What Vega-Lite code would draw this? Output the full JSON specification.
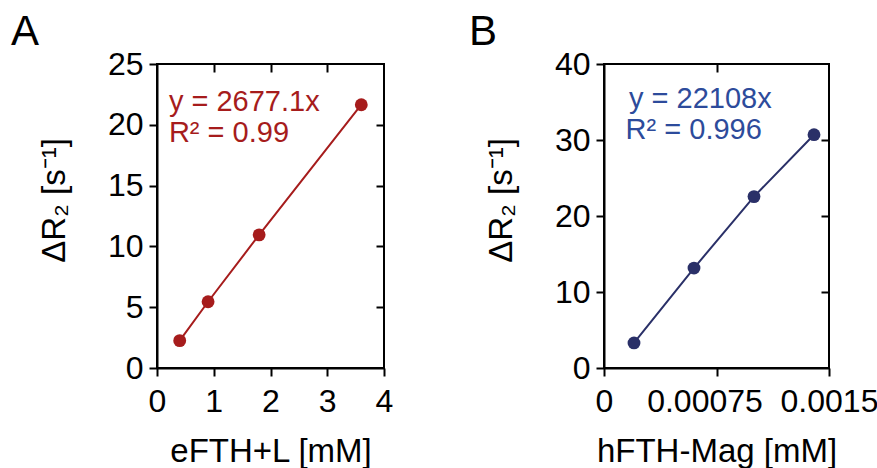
{
  "$schema": "https://vega.github.io/schema/vega-lite/v6.json",
  "padding": {"left": 10, "top": 10, "right": 0, "bottom": 0},
  "background": "white",
  "spacing": 74,
  "config": {
    "font": "Liberation Sans",
    "view": {"stroke": "black", "strokeWidth": 2},
    "axis": {
      "grid": false,
      "domainColor": "black", "domainWidth": 2,
      "tickColor": "black", "tickWidth": 2, "tickSize": 8,
      "labelFont": "Liberation Sans", "labelFontSize": 32, "labelColor": "black", "labelOverlap": false, "labelFlush": false,
      "titleFont": "Liberation Sans", "titleFontSize": 33, "titleFontWeight": "normal", "titleColor": "black"
    },
    "title": {"font": "Liberation Sans", "fontSize": 42, "fontWeight": "normal", "color": "black", "anchor": "start", "frame": "group", "baseline": "alphabetic"}
  },
  "hconcat": [
    {
      "width": 227, "height": 304,
      "title": {"text": "A", "dx": -146, "offset": -6},
      "data": {"values": [
        {"conc": 0.4, "dR2": 2.25},
        {"conc": 0.9, "dR2": 5.45},
        {"conc": 1.8, "dR2": 10.95},
        {"conc": 3.6, "dR2": 21.65}
      ]},
      "layer": [
        {
          "mark": {"type": "line", "color": "#a61c1c", "strokeWidth": 2},
          "encoding": {
            "x": {"field": "conc", "type": "quantitative", "scale": {"domain": [0, 4], "nice": false},
                  "axis": {"values": [0, 1, 2, 3, 4], "title": "eFTH+L [mM]", "labelPadding": 10, "titlePadding": 18}},
            "y": {"field": "dR2", "type": "quantitative", "scale": {"domain": [0, 25], "nice": false},
                  "axis": {"values": [0, 5, 10, 15, 20, 25], "title": "ΔR₂ [s⁻¹]", "titleFontSize": 33, "labelPadding": 6, "titlePadding": 36, "titleY": 136}}
          }
        },
        {
          "mark": {"type": "point", "filled": true, "size": 165, "color": "#a61c1c", "opacity": 1},
          "encoding": {
            "x": {"field": "conc", "type": "quantitative",
                  "axis": {"orient": "top", "values": [1, 2, 3], "labels": false, "title": null, "domain": false, "tickSize": -8}},
            "y": {"field": "dR2", "type": "quantitative",
                  "axis": {"orient": "right", "values": [5, 10, 15, 20], "labels": false, "title": null, "domain": false, "tickSize": -8}}
          }
        },
        {
          "data": {"values": [{}]},
          "mark": {"type": "text", "align": "left", "baseline": "alphabetic", "fontSize": 29, "color": "#a61c1c"},
          "encoding": {
            "x": {"datum": 0.21, "type": "quantitative", "axis": null},
            "y": {"datum": 21.16, "type": "quantitative", "axis": null},
            "text": {"value": "y = 2677.1x"}
          }
        },
        {
          "data": {"values": [{}]},
          "mark": {"type": "text", "align": "left", "baseline": "alphabetic", "fontSize": 29, "color": "#a61c1c"},
          "encoding": {
            "x": {"datum": 0.21, "type": "quantitative", "axis": null},
            "y": {"datum": 18.61, "type": "quantitative", "axis": null},
            "text": {"value": "R² = 0.99"}
          }
        }
      ],
      "resolve": {"axis": {"x": "independent", "y": "independent"}}
    },
    {
      "width": 225, "height": 304,
      "title": {"text": "B", "dx": -135, "offset": -6},
      "data": {"values": [
        {"conc": 0.0002, "dR2": 3.3},
        {"conc": 0.0006, "dR2": 13.15},
        {"conc": 0.001, "dR2": 22.55},
        {"conc": 0.0014, "dR2": 30.7}
      ]},
      "layer": [
        {
          "mark": {"type": "line", "color": "#2a3068", "strokeWidth": 2},
          "encoding": {
            "x": {"field": "conc", "type": "quantitative", "scale": {"domain": [0, 0.0015], "nice": false},
                  "axis": {"values": [0, 0.00075, 0.0015], "format": ".5~f", "title": "hFTH-Mag [mM]", "labelPadding": 10, "titlePadding": 18,
                           "labelOffset": {"condition": {"test": "datum.value > 0.0005 && datum.value < 0.001", "value": -12}, "value": 0}}},
            "y": {"field": "dR2", "type": "quantitative", "scale": {"domain": [0, 40], "nice": false},
                  "axis": {"values": [0, 10, 20, 30, 40], "title": "ΔR₂ [s⁻¹]", "titleFontSize": 33, "labelPadding": 6, "titlePadding": 36, "titleY": 136}}
          }
        },
        {
          "mark": {"type": "point", "filled": true, "size": 165, "color": "#2a3068", "opacity": 1},
          "encoding": {
            "x": {"field": "conc", "type": "quantitative",
                  "axis": {"orient": "top", "values": [0.00075], "labels": false, "title": null, "domain": false, "tickSize": -8}},
            "y": {"field": "dR2", "type": "quantitative",
                  "axis": {"orient": "right", "values": [10, 20, 30], "labels": false, "title": null, "domain": false, "tickSize": -8}}
          }
        },
        {
          "data": {"values": [{}]},
          "mark": {"type": "text", "align": "left", "baseline": "alphabetic", "fontSize": 29, "color": "#2d4b9b"},
          "encoding": {
            "x": {"datum": 0.000167, "type": "quantitative", "axis": null},
            "y": {"datum": 34.16, "type": "quantitative", "axis": null},
            "text": {"value": "y = 22108x"}
          }
        },
        {
          "data": {"values": [{}]},
          "mark": {"type": "text", "align": "left", "baseline": "alphabetic", "fontSize": 29, "color": "#2d4b9b"},
          "encoding": {
            "x": {"datum": 0.000144, "type": "quantitative", "axis": null},
            "y": {"datum": 30.1, "type": "quantitative", "axis": null},
            "text": {"value": "R² = 0.996"}
          }
        }
      ],
      "resolve": {"axis": {"x": "independent", "y": "independent"}}
    }
  ]
}
